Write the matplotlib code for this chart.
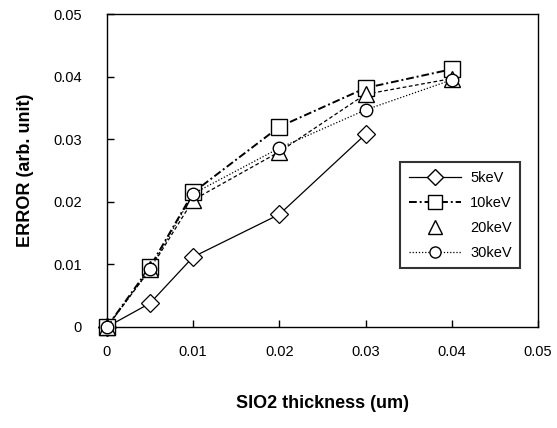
import matplotlib
matplotlib.use("Agg")
import matplotlib.pyplot as plt
from matplotlib.lines import Line2D

thickness_5 = [0.0, 0.005, 0.01, 0.02, 0.03]
error_5kev = [0.0, 0.0038, 0.0112, 0.0180, 0.0308]

thickness = [0.0, 0.005, 0.01, 0.02, 0.03, 0.04]
error_10kev = [0.0, 0.0096, 0.0215, 0.0320, 0.0382, 0.0412]
error_20kev = [0.0, 0.0092, 0.0203, 0.0280, 0.0372, 0.0397]
error_30kev = [0.0, 0.0092, 0.0213, 0.0286, 0.0347, 0.0395]

x_ticks = [0, 0.01, 0.02, 0.03, 0.04, 0.05]
y_ticks = [0, 0.01, 0.02, 0.03, 0.04, 0.05]

plt.rcParams['font.family'] = ['Liberation Sans', 'DejaVu Sans']

fig = plt.figure(figsize=(5.57, 4.28), dpi=100)
ax = fig.add_axes([0.192, 0.236, 0.774, 0.731])

mk = dict(markerfacecolor='white', markeredgecolor='black', color='black')

ax.plot(thickness_5, error_5kev, '-', lw=0.9, marker='D', ms=9, mew=0.9, **mk,
        zorder=3, clip_on=False)
ax.plot(thickness, error_10kev, linestyle=(0, (4, 1.5, 1, 1.5)), lw=1.4,
        marker='s', ms=12, mew=1.0, **mk, zorder=3, clip_on=False)
ax.plot(thickness, error_20kev, linestyle=(0, (3, 2)), lw=0.9, color='black',
        zorder=2, clip_on=False)
ax.plot(thickness, error_20kev, linestyle='none', marker='^', ms=12, mew=1.0, **mk,
        zorder=4, clip_on=False)
ax.plot(thickness, error_30kev, linestyle=(0, (1, 1.5)), lw=0.9,
        marker='o', ms=9, mew=1.0, **mk, zorder=4, clip_on=False)

ax.set_xlim(0, 0.05)
ax.set_ylim(0, 0.05)
ax.set_xticks(x_ticks)
ax.set_yticks(y_ticks)
ax.set_xticklabels(['0', '0.01', '0.02', '0.03', '0.04', '0.05'])
ax.set_yticklabels(['0', '0.01', '0.02', '0.03', '0.04', '0.05'])
ax.tick_params(direction='in', length=5, width=1, labelsize=10.5)
ax.tick_params(axis='y', pad=18)
ax.tick_params(axis='x', pad=13)
for s in ax.spines.values():
    s.set_linewidth(1.0)

ax.set_xlabel('SIO2 thickness (um)', fontsize=13, fontweight='heavy', labelpad=26)
ax.set_ylabel('ERROR (arb. unit)', fontsize=13, fontweight='heavy', labelpad=14)

handles = [
    Line2D([], [], ls='-', lw=0.9, marker='D', ms=8, **mk),
    Line2D([], [], ls=(0, (4, 1.5, 1, 1.5)), lw=1.4, marker='s', ms=10, **mk),
    Line2D([], [], ls='none', marker='^', ms=10, **mk),
    Line2D([], [], ls=(0, (1, 1.5)), lw=0.9, marker='o', ms=8, **mk),
]
labels = ['5keV', '10keV', '20keV', '30keV']
leg = ax.legend(handles, labels, loc='upper left', bbox_to_anchor=(0.68, 0.527),
                borderaxespad=0, frameon=True, fancybox=False, edgecolor='black',
                fontsize=10.5, handlelength=3.6, borderpad=0.6, labelspacing=0.75,
                handletextpad=0.6)
leg.get_frame().set_linewidth(1.5)

fig.savefig('out.png', dpi=100)
